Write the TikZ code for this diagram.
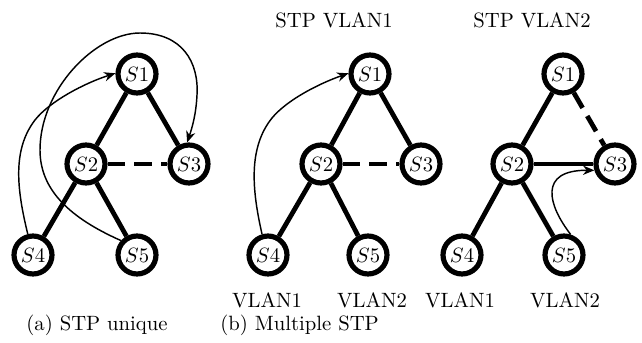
\documentclass[tikz,border=0pt]{standalone}
\usetikzlibrary{arrows.meta}
\begin{document}
\begin{tikzpicture}[x=0.01698cm,y=-0.01698cm,
  sw/.style={circle,draw,line width=2.5pt,minimum size=0.645cm,inner sep=0pt,fill=white},
  lnk/.style={line width=2.3pt},
  blk/.style={line width=2.3pt,dash pattern=on 8.5pt off 4.5pt},
  arr/.style={line width=0.7pt,-{Stealth[length=5.5pt,width=4.5pt,inset=1.8pt]}},
  lab/.style={inner sep=0pt}]
\useasboundingbox (0,0) rectangle (642,343);
% panel a
\node[sw] (a1) at (137,74) {$S1$};
\node[sw] (a2) at (86,164) {$S2$};
\node[sw] (a3) at (189,164) {$S3$};
\node[sw] (a4) at (33,255) {$S4$};
\node[sw] (a5) at (137,255) {$S5$};
\draw[lnk] (a1) -- (a2);
\draw[lnk] (a1) -- (a3);
\draw[lnk] (a2) -- (a4);
\draw[lnk] (a2) -- (a5);
\coordinate (p1) at (35,120);
\draw[arr] (a4.104) .. controls (17,190) and (12,150) .. (p1)
  .. controls (50,101) and (85,83) .. (a1.178);
\coordinate (q1) at (40,150);
\coordinate (q2) at (140,33);
\coordinate (q3) at (197,95);
\draw[arr] (a5.138) .. controls (70,218) and (40,190) .. (q1)
  .. controls (40,90) and (95,33) .. (q2)
  .. controls (182,33) and (199,62) .. (q3)
  .. controls (196,115) and (192,128) .. (a3.95);
\draw[blk] (a2) -- (a3);
% panel b1
\node[sw] (b1) at (370,74) {$S1$};
\node[sw] (b2) at (321,164) {$S2$};
\node[sw] (b3) at (421,164) {$S3$};
\node[sw] (b4) at (268,255) {$S4$};
\node[sw] (b5) at (368,255) {$S5$};
\draw[lnk] (b1) -- (b2);
\draw[lnk] (b1) -- (b3);
\draw[blk] (b2) -- (b3);
\draw[lnk] (b2) -- (b4);
\draw[lnk] (b2) -- (b5);
\coordinate (r1) at (272,118);
\draw[arr] (b4.106) .. controls (252,190) and (248,148) .. (r1)
  .. controls (287,100) and (318,84) .. (b1.178);
% panel b2
\node[sw] (c1) at (563,74) {$S1$};
\node[sw] (c2) at (512,164) {$S2$};
\node[sw] (c3) at (615,164) {$S3$};
\node[sw] (c4) at (462,255) {$S4$};
\node[sw] (c5) at (564,255) {$S5$};
\draw[lnk] (c1) -- (c2);
\draw[blk] (c1) -- (c3);
\draw[lnk] (c2) -- (c3);
\draw[lnk] (c2) -- (c4);
\draw[lnk] (c2) -- (c5);
\draw[arr] (c5.72) .. controls (548,205) and (538,170) .. (c3.197);
% texts
\node[lab] (t1) at (334,20) {STP VLAN1};
\node[lab] (t2) at (532,20) {STP VLAN2};
\node[lab] (v1) at (267,300) {VLAN1};
\node[lab] (v2) at (372,300) {VLAN2};
\node[lab] (v3) at (460,300) {VLAN1};
\node[lab] (v4) at (565,300) {VLAN2};
\node[lab,anchor=west] (ca) at (26,325) {(a) STP unique};
\node[lab,anchor=west] (cb) at (220,325) {(b) Multiple STP};
\end{tikzpicture}
\end{document}
